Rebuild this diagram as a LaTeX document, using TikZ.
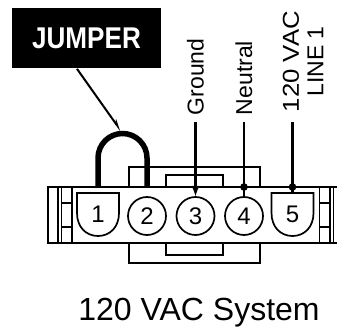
\documentclass[tikz,border=0pt]{standalone}
\usepackage{fontspec}
\setmainfont{Liberation Sans}
\usetikzlibrary{arrows.meta}

\begin{document}
\begin{tikzpicture}[
    x=1pt, y=-1pt,
    line width=1.7pt,
    pin/.style={draw,circle,minimum size=38pt,inner sep=0pt,outer sep=0pt,font=\fontsize{24}{24}\selectfont},
    slot/.style={inner sep=0pt,outer sep=0pt,minimum width=42pt,minimum height=43pt,font=\fontsize{24}{24}\selectfont},
    wire/.style={line width=2.5pt},
    jumper/.style={line width=5.5pt},
    tlabel/.style={rotate=90,anchor=west,inner sep=0pt,align=center,font=\fontsize{23}{24.5}\selectfont},
  ]

  \useasboundingbox (0,0) rectangle (337,328);

  \coordinate (top) at (0,187);

  \draw (337,187) -- (48,187) -- (48,243) -- (337,243);
  \foreach \x in {58,61.5,72,319.5,330,333.5}
    \draw (\x,187) -- (\x,243);
  \foreach \y in {203,227}
  {
    \draw (61.5,\y) -- (72,\y);
    \draw (319.5,\y) -- (330,\y);
  }

  \draw (129,187) -- (129,167) -- (260,167) -- (260,187);
  \draw (166,187) -- (166,175) -- (223,175) -- (223,187);
  \draw (129,243) -- (129,263) -- (260,263) -- (260,243);
  \draw (166,243) -- (166,255) -- (223,255) -- (223,243);

  \foreach \x/\cx in {1/98,5/292.5}
  {
    \node (c-\x) at (\cx,214.5) [slot] {\x};
    \draw (c-\x.north west) -- (c-\x.north east) -- ++(0,20)
      .. controls +(0,14) and +(12,0) .. (c-\x.south)
      .. controls +(-12,0) and +(0,14) .. ([yshift=-20pt]c-\x.north west) -- cycle;
  }
  \foreach \x/\cx in {2/147,3/195.5,4/244}
  {
    \node (c-\x) at (\cx,216) [pin] {\x};
  }

  \node (l-3) at (195.5,116) [tlabel] {Ground};
  \node (l-4) at (244,116) [tlabel] {Neutral};
  \node (l-5) at (303,113) [tlabel] {\scalebox{1.12}[1]{120 VAC}\\LINE 1};

  \draw[wire,shorten <=6pt,-{Latex[length=11pt,width=8pt]}] (l-3.west) -- (c-3.north);
  \draw[wire,shorten <=6pt] (l-4.west) -- (c-4.north);
  \draw[wire,shorten <=9pt] (c-5.north |- l-5.west) -- (c-5.north);
  \fill (c-4 |- top) circle (3.8);
  \fill (c-5 |- top) circle (3.8);

  \draw[jumper] (c-1 |- top) -- (98,158) arc[start angle=180,end angle=360,radius=24.5] -- (c-2 |- top);

  \node (jmp) at (86.5,38) [fill=black,minimum width=149pt,minimum height=60pt,inner sep=0pt,text=white,font=\bfseries\fontsize{30}{30}\selectfont] {\scalebox{0.87}[1]{JUMPER}\hspace{8pt}};
  \coordinate (jtip) at (121,131);
  \draw[line width=2pt,-{Stealth[length=10pt,width=6pt,harpoon]}] ([xshift=-9.5pt]jmp.south) -- (jtip);

  \node (title) at (199,320.5) [anchor=base,font=\fontsize{32}{32}\selectfont] {120 VAC System};

\end{tikzpicture}
\end{document}
